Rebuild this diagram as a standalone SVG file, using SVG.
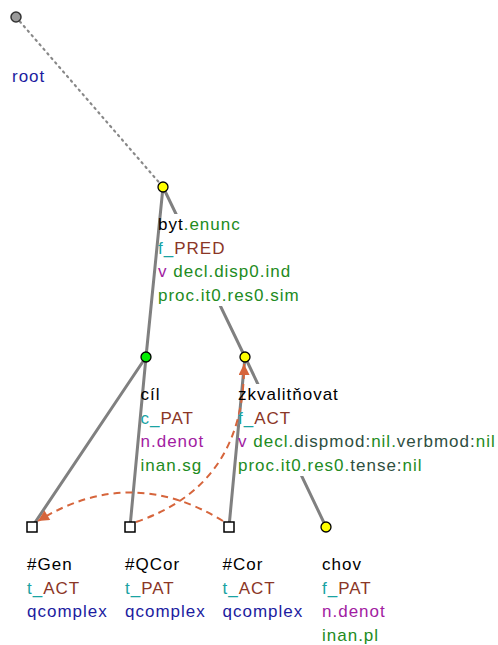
<svg xmlns="http://www.w3.org/2000/svg" width="498" height="645" viewBox="0 0 498 645">
<defs>
<style>
text{font-family:"Liberation Sans",Arial,sans-serif;font-size:17px;letter-spacing:1px;fill:#000}
.edge{stroke:#808080;stroke-width:3;fill:none;stroke-linecap:round}
.root{stroke:#888;stroke-width:2.2;fill:none;stroke-dasharray:1.5 4.5;stroke-linecap:round}
.coref{stroke:#d6653c;stroke-width:2;fill:none;stroke-dasharray:7 5}
.bg{fill:#fff}
.g{fill:#228b22}.t{fill:#1aa3a3}.f{fill:#8b3626}.p{fill:#a21ca2}.b{fill:#1c1ca0}.d{fill:#2f4f3f}
.nd{stroke:#000;stroke-width:1.3}
.sq{fill:#fff;stroke:#000;stroke-width:1.5}
</style>
<marker id="ah" viewBox="0 0 10 10" refX="10" refY="5" markerWidth="15" markerHeight="11" markerUnits="userSpaceOnUse" orient="auto"><path d="M0,0 L10,5 L0,10 z" fill="#d6653c"/></marker>
</defs>
<g id="connectors">
<line class="root" x1="16" y1="17" x2="163" y2="187"/>
<line class="edge" x1="163" y1="187" x2="146" y2="357"/>
<line class="edge" x1="163" y1="187" x2="245" y2="357"/>
<line class="edge" x1="146" y1="357" x2="32" y2="527"/>
<line class="edge" x1="146" y1="357" x2="130" y2="527"/>
<line class="edge" x1="245" y1="357" x2="229" y2="527"/>
<line class="edge" x1="245" y1="357" x2="326" y2="527"/>
</g>
<g id="label-backgrounds">
<rect class="bg" x="162" y="214" width="138" height="92"/>
<rect class="bg" x="244" y="384" width="254" height="92"/>
</g>
<g id="coref">
<path class="coref" d="M223,521 Q130,464 38,521" marker-end="url(#ah)"/>
<path class="coref" d="M136,522 Q245,485 244,364" marker-end="url(#ah)"/>
</g>
<g id="n-root"><circle cx="16" cy="17" r="5" fill="#9a9a9a" stroke="#333" stroke-width="1.5"/><text x="12" y="82" class="b">root</text></g>
<g id="n-byt"><circle class="nd" cx="163" cy="187" r="5" fill="#ffff00"/>
<text x="158" y="230">byt<tspan class="g">.enunc</tspan></text>
<text x="158" y="253.5"><tspan class="t">f_</tspan><tspan class="f">PRED</tspan></text>
<text x="158" y="277"><tspan class="p">v</tspan><tspan class="g"> decl.disp0.ind</tspan></text>
<text x="158" y="300.5" class="g">proc.it0.res0.sim</text></g>
<g id="n-cil"><circle class="nd" cx="146" cy="357" r="5" fill="#00ee00"/>
<text x="140.5" y="400">cíl</text>
<text x="140.5" y="423.5"><tspan class="t">c_</tspan><tspan class="f">PAT</tspan></text>
<text x="140.5" y="447" class="p">n.denot</text>
<text x="140.5" y="470.5" class="g">inan.sg</text></g>
<g id="n-zkvalitnovat"><circle class="nd" cx="245" cy="357" r="5" fill="#ffff00"/>
<text x="238" y="400">zkvalitňovat</text>
<text x="238" y="423.5"><tspan class="t">f_</tspan><tspan class="f">ACT</tspan></text>
<text x="238" y="447"><tspan class="p">v</tspan><tspan class="g"> decl.</tspan><tspan class="d">dispmod:</tspan><tspan class="g">nil.</tspan><tspan class="d">verbmod:</tspan><tspan class="g">nil</tspan></text>
<text x="238" y="470.5"><tspan class="g">proc.it0.res0.</tspan><tspan class="d">tense:</tspan><tspan class="g">nil</tspan></text></g>
<g id="n-gen"><rect class="sq" x="27" y="522" width="10" height="10"/>
<text x="27" y="570">#Gen</text>
<text x="27" y="593.5"><tspan class="t">t_</tspan><tspan class="f">ACT</tspan></text>
<text x="27" y="617" class="b">qcomplex</text></g>
<g id="n-qcor"><rect class="sq" x="125" y="522" width="10" height="10"/>
<text x="125" y="570">#QCor</text>
<text x="125" y="593.5"><tspan class="t">t_</tspan><tspan class="f">PAT</tspan></text>
<text x="125" y="617" class="b">qcomplex</text></g>
<g id="n-cor"><rect class="sq" x="224" y="522" width="10" height="10"/>
<text x="222.5" y="570">#Cor</text>
<text x="222.5" y="593.5"><tspan class="t">t_</tspan><tspan class="f">ACT</tspan></text>
<text x="222.5" y="617" class="b">qcomplex</text></g>
<g id="n-chov"><circle class="nd" cx="326" cy="527" r="5" fill="#ffff00"/>
<text x="322" y="570">chov</text>
<text x="322" y="593.5"><tspan class="t">f_</tspan><tspan class="f">PAT</tspan></text>
<text x="322" y="617" class="p">n.denot</text>
<text x="322" y="640.5" class="g">inan.pl</text></g>
</svg>
